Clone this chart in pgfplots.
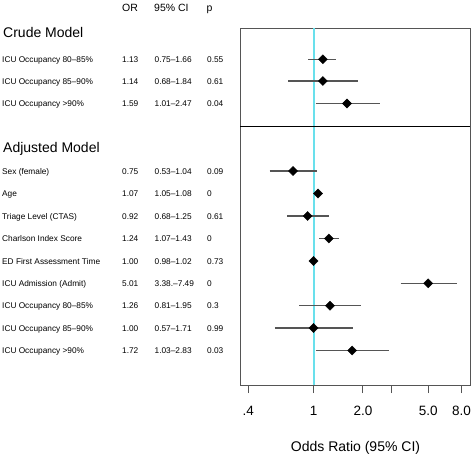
\documentclass[border=0pt]{standalone}
\usepackage{fontspec}
\setmainfont{Liberation Sans}
\usepackage{pgfplots}
\pgfplotsset{compat=1.18}
\definecolor{refline}{RGB}{105,224,236}
\definecolor{boxgray}{RGB}{85,85,85}
\newcommand\rowfont{\fontsize{8.3}{9}\selectfont}
\newcommand\R[5]{%
  \node[anchor=base west,inner sep=0pt,font=\rowfont] at (2,#1+3) {#2};
  \node[anchor=base west,inner sep=0pt,font=\rowfont] at (122,#1+3) {#3};
  \node[anchor=base west,inner sep=0pt,font=\rowfont] at (154.5,#1+3) {#4};
  \node[anchor=base west,inner sep=0pt,font=\rowfont] at (207,#1+3) {#5};
}
\begin{document}
\begin{tikzpicture}
\path[use as bounding box] (0pt,0pt) rectangle (472pt,-455pt);
\begin{axis}[
  at={(240pt,-385pt)}, anchor=south west,
  scale only axis, width=230pt, height=357pt,
  xmode=log, xmin=0.356, xmax=9.0,
  ymin=28, ymax=385, y dir=reverse,
  axis line style={draw=boxgray, line width=0.9pt},
  xtick={0.4,1,2,3,5,8}, xticklabels={.4,1,2.0,,5.0,8.0},
  ytick=\empty,
  xtick pos=bottom,
  tick align=outside,
  major tick length=8pt,
  tick style={boxgray, line width=0.9pt},
  xticklabel style={font=\fontsize{13.5}{14}\selectfont, yshift=-10pt},
  /pgf/number format/assume math mode=true,
  clip=false,
]
\addplot[refline, line width=2pt] coordinates {(1,28) (1,385)};
\draw[black, line width=0.9pt] (axis cs:0.356,126) -- (axis cs:9.0,126);
\addplot[boxgray, line width=1.3pt, unbounded coords=jump] table[row sep=\\] {
x y\\
0.93 59.3\\ 1.38 59.3\\ nan nan\\
0.70 81\\ 1.88 81\\ nan nan\\
1.03 103.5\\ 2.53 103.5\\ nan nan\\
0.54 171\\ 1.05 171\\ nan nan\\
1.05 193.5\\ 1.08 193.5\\ nan nan\\
0.69 216\\ 1.25 216\\ nan nan\\
1.08 238.5\\ 1.42 238.5\\ nan nan\\
0.98 261\\ 1.02 261\\ nan nan\\
3.40 283.3\\ 7.50 283.3\\ nan nan\\
0.82 305.7\\ 1.96 305.7\\ nan nan\\
0.58 328\\ 1.75 328\\ nan nan\\
1.035 350.5\\ 2.87 350.5\\
};
\addplot[only marks, mark=square*, mark size=3.2pt, mark options={rotate=45, fill=black, draw=black}] table[row sep=\\] {
x y\\
1.14 59.3\\
1.14 81\\
1.60 103.5\\
0.75 171\\
1.065 193.5\\
0.92 216\\
1.24 238.5\\
1.00 261\\
5.00 283.3\\
1.26 305.7\\
1.00 328\\
1.72 350.5\\
};
\end{axis}
\begin{scope}[x=1pt,y=-1pt]
\node[anchor=base west,inner sep=0pt,font=\fontsize{10.5}{11}\selectfont] at (122,11.7) {OR};
\node[anchor=base west,inner sep=0pt,font=\fontsize{10.5}{11}\selectfont] at (154,11.7) {95\% CI};
\node[anchor=base west,inner sep=0pt,font=\fontsize{10.5}{11}\selectfont] at (206.5,11.7) {p};
\node[anchor=base west,inner sep=0pt,font=\fontsize{14}{15}\selectfont] at (3,37.3) {Crude Model};
\R{59.3}{ICU Occupancy 80–85\%}{1.13}{0.75–1.66}{0.55}
\R{81}{ICU Occupancy 85–90\%}{1.14}{0.68–1.84}{0.61}
\R{103.5}{ICU Occupancy >90\%}{1.59}{1.01–2.47}{0.04}
\node[anchor=base west,inner sep=0pt,font=\fontsize{14}{15}\selectfont] at (3,152.3) {Adjusted Model};
\R{171}{Sex (female)}{0.75}{0.53–1.04}{0.09}
\R{193.5}{Age}{1.07}{1.05–1.08}{0}
\R{216}{Triage Level (CTAS)}{0.92}{0.68–1.25}{0.61}
\R{238.5}{Charlson Index Score}{1.24}{1.07–1.43}{0}
\R{261}{ED First Assessment Time}{1.00}{0.98–1.02}{0.73}
\R{283.3}{ICU Admission (Admit)}{5.01}{3.38.–7.49}{0}
\R{305.7}{ICU Occupancy 80–85\%}{1.26}{0.81–1.95}{0.3}
\R{328}{ICU Occupancy 85–90\%}{1.00}{0.57–1.71}{0.99}
\R{350.5}{ICU Occupancy >90\%}{1.72}{1.03–2.83}{0.03}
\node[anchor=base,inner sep=0pt,font=\fontsize{14}{15}\selectfont] at (355.5,451.5) {Odds Ratio (95\% CI)};
\end{scope}
\end{tikzpicture}
\end{document}
